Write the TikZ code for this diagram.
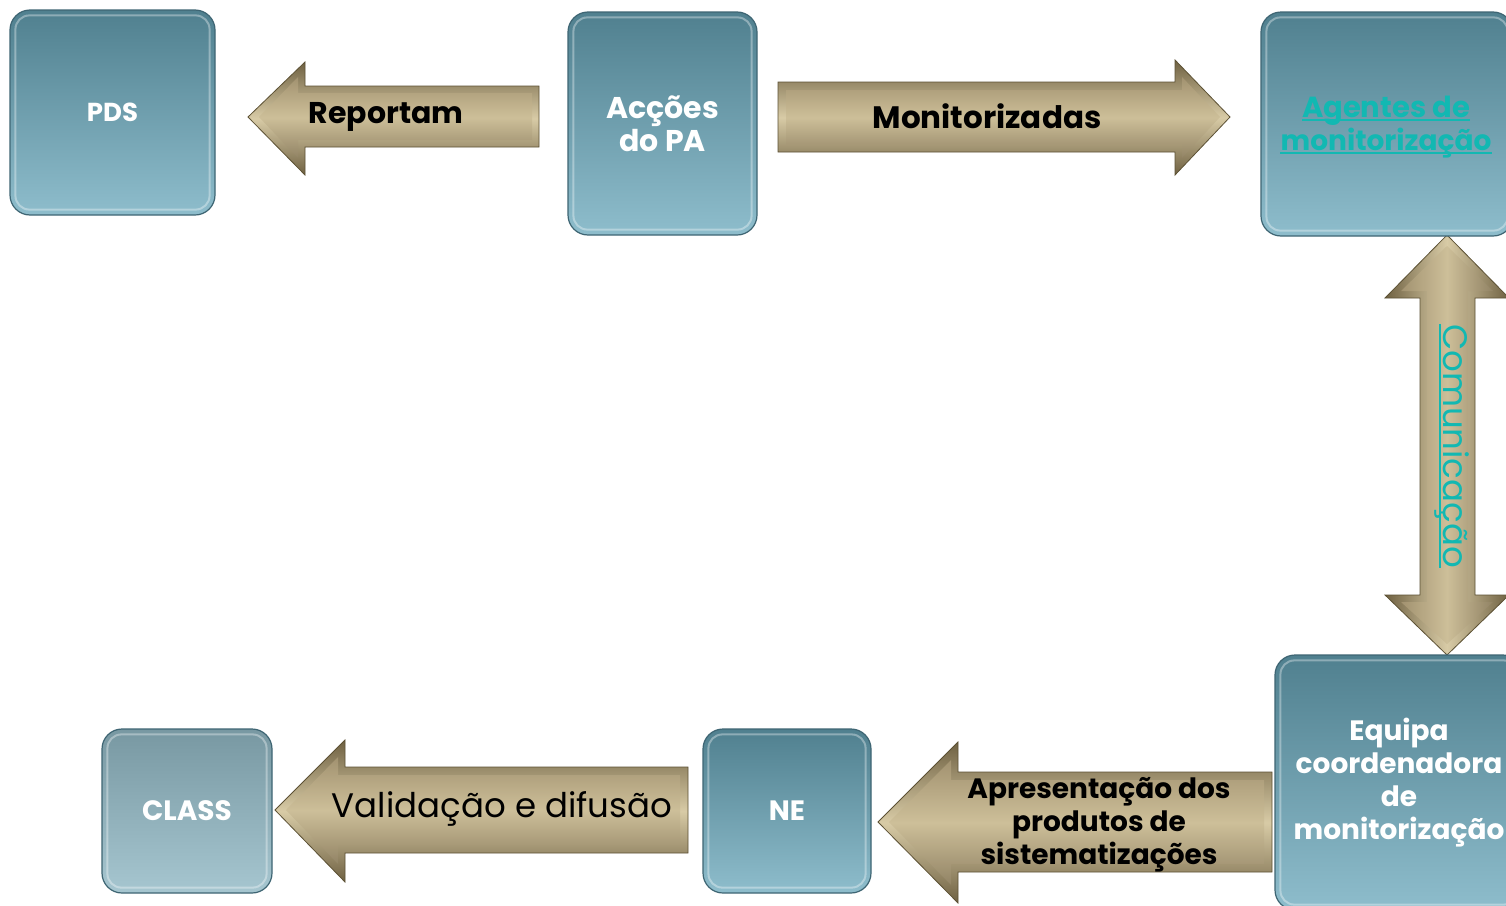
\documentclass[tikz,border=0pt]{standalone}
\usepackage{fontspec}
\setmainfont{Poppins}
\definecolor{boxtop}{HTML}{50808F}
\definecolor{boxbot}{HTML}{8EBDCC}
\definecolor{boxedge}{HTML}{3E6573}
\definecolor{classtop}{HTML}{7898A2}
\definecolor{classbot}{HTML}{A6C6D0}
\definecolor{arrdark}{HTML}{6F6142}
\definecolor{arrlight}{HTML}{D8CBA6}
\definecolor{arrinA}{HTML}{A29270}
\definecolor{arrinB}{HTML}{CDBF99}
\definecolor{arredge}{HTML}{5C5134}
\definecolor{tealtxt}{HTML}{12B8B2}
\begin{document}
\begin{tikzpicture}[x=1pt,y=-1pt,
  box/.style={rounded corners=20pt, draw=boxedge, line width=1.2pt,
    top color=boxtop, bottom color=boxbot, text=white, align=center,
    inner sep=0pt, font=\bfseries\fontsize{28}{33}\selectfont},
  classbox/.style={box, top color=classtop, bottom color=classbot},
  shine/.style={draw=white, draw opacity=0.35, line width=2pt, rounded corners=14pt},
  arrouterh/.style={draw=arredge, line width=0.8pt, top color=arrdark, bottom color=arrdark, middle color=arrlight},
  arrinnerh/.style={top color=arrinA, bottom color=arrinA!90!black, middle color=arrinB},
  arrouterv/.style={draw=arredge, line width=0.8pt, left color=arrdark, right color=arrdark, middle color=arrlight},
  arrinnerv/.style={left color=arrinA, right color=arrinA!90!black, middle color=arrinB},
  arrtext/.style={text=black, align=center, inner sep=0pt},
  tealtext/.style={text=tealtxt, inner sep=0pt, font=\bfseries\fontsize{29}{33}\selectfont},
  ulline/.style={draw=tealtxt, line width=2.4pt},
]
\useasboundingbox (0,0) rectangle (1506,905);
\fill[white] (0,0) rectangle (1506,905);

% ---- arrows ----
% Reportam (left)
\path[arrouterh] (539,86) -- (305,86) -- (305,62) -- (248,117) -- (305,175) -- (305,147) -- (539,147) -- cycle;
\path[arrinnerh] (532,93) -- (298,93) -- (298,77) -- (259,117) -- (298,158) -- (298,140) -- (532,140) -- cycle;
% Monitorizadas (right)
\path[arrouterh] (778,82) -- (1175,82) -- (1175,60) -- (1230,117) -- (1175,175) -- (1175,152) -- (778,152) -- cycle;
\path[arrinnerh] (786,90) -- (1182,90) -- (1182,77) -- (1220,117) -- (1182,158) -- (1182,144) -- (786,144) -- cycle;
% Validacao (left)
\path[arrouterh] (688,767) -- (345,767) -- (345,740) -- (275,810) -- (345,882) -- (345,853) -- (688,853) -- cycle;
\path[arrinnerh] (680,775) -- (338,775) -- (338,757) -- (286,810) -- (338,864) -- (338,845) -- (680,845) -- cycle;
% Apresentacao (left)
\path[arrouterh] (1272,772) -- (958,772) -- (958,742) -- (878,822) -- (958,903) -- (958,872) -- (1272,872) -- cycle;
\path[arrinnerh] (1264,780) -- (951,780) -- (951,760) -- (889,822) -- (951,885) -- (951,864) -- (1264,864) -- cycle;
% Comunicacao (double vertical)
\path[arrouterv] (1447,235) -- (1509,298) -- (1475,298) -- (1475,595) -- (1509,595) -- (1447,655) -- (1385,595) -- (1420,595) -- (1420,298) -- (1385,298) -- cycle;
\path[arrinnerv] (1447,246) -- (1493,291) -- (1468,291) -- (1468,602) -- (1493,602) -- (1447,644) -- (1401,602) -- (1427,602) -- (1427,291) -- (1401,291) -- cycle;

% ---- boxes ----
\node[box, minimum width=205pt, minimum height=205pt, font=\bfseries\fontsize{26}{33}\selectfont] (pds) at (112.5,112.5) {PDS};
\node[box, minimum width=189pt, minimum height=223pt, font=\bfseries\fontsize{30}{33}\selectfont] (acc) at (662.5,123.5) {Acções\\do PA};
\node[box, minimum width=252pt, minimum height=224pt] (age) at (1387,124) {};
\node[box, minimum width=248pt, minimum height=255pt] (equ) at (1399,782.5) {Equipa\\coordenadora\\de\\monitorização};
\node[box, minimum width=168pt, minimum height=164pt] (ne) at (787,811) {NE};
\node[classbox, minimum width=170pt, minimum height=164pt] (cls) at (187,811) {CLASS};
\foreach \b in {pds,acc,age,equ,ne,cls}{
  \draw[shine] ([shift={(6,6)}]\b.north west) rectangle ([shift={(-6,-6)}]\b.south east);
}
% Agentes text (underlined)
\node[tealtext, anchor=base] (ag1) at (1386,117) {Agentes de};
\node[tealtext, anchor=base, font=\bfseries\fontsize{28}{33}\selectfont] (ag2) at (1386,150) {monitorização};
\draw[ulline] ([yshift=-3pt]ag1.base west) -- ([yshift=-3pt]ag1.base east);
\draw[ulline] ([yshift=-3pt]ag2.base west) -- ([yshift=-3pt]ag2.base east);

% ---- arrow labels ----
\node[arrtext, font=\bfseries\fontsize{30}{33}\selectfont] (rep) at (386,117) {Reportam};
\node[arrtext, font=\bfseries\fontsize{31}{33}\selectfont] (mon) at (987,116) {Monitorizadas};
\node[arrtext, font=\fontsize{34}{33}\selectfont] (val) at (502,809) {Validação e difusão};
\node[arrtext, font=\bfseries\fontsize{28}{33}\selectfont] (apr) at (1099,825) {Apresentação dos\\produtos de\\sistematizações};
\node[text=tealtxt, rotate=-90, inner sep=0pt, font=\fontsize{34}{33}\selectfont] (com) at (1452,446) {Comunicação};
\draw[draw=tealtxt, line width=2pt] ([xshift=-4pt]com.base west) -- ([xshift=-4pt]com.base east);
\end{tikzpicture}
\end{document}
